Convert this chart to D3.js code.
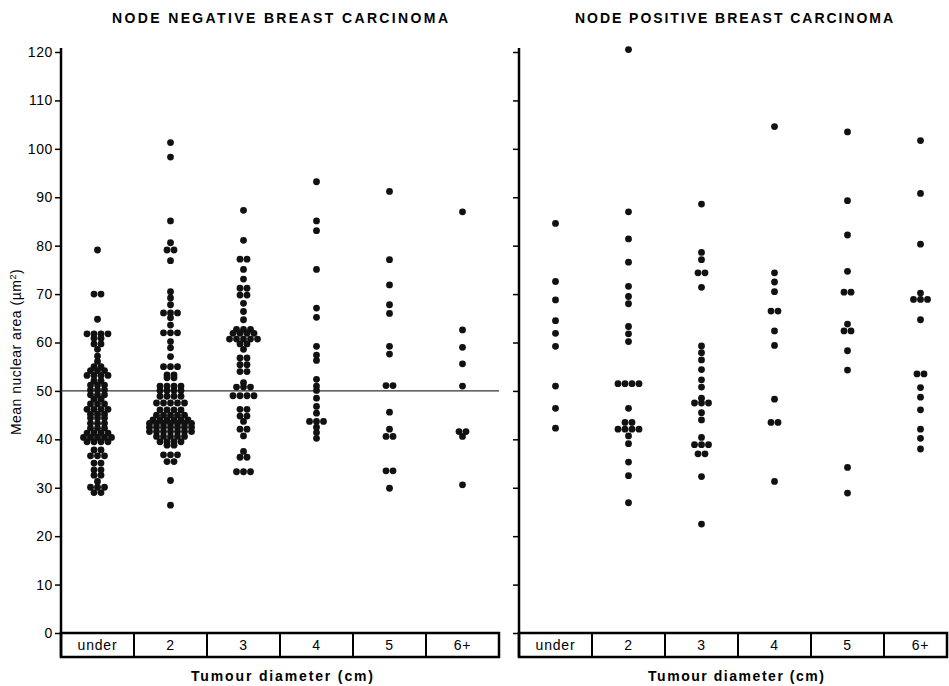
<html>
<head>
<script src="https://cdn.jsdelivr.net/npm/d3@7"></script>
<style>
  body { margin: 0; background: #fff; }
  text { font-family: "Liberation Sans", Arial, sans-serif; fill: #000; }
  .title { font-weight: bold; font-size: 14px; }
  .xlab { font-weight: bold; font-size: 14px; }
  .tick text { font-size: 14px; letter-spacing: 0.6px; }
  .cat { font-size: 14px; letter-spacing: 0.8px; }
</style>
</head>
<body>
<svg width="949" height="686"></svg>
<script>
// tumour diameter categories
var categories = ["under", "2", "3", "4", "5", "6+"];
var yTicks = [0, 10, 20, 30, 40, 50, 60, 70, 80, 90, 100, 110, 120];

// node negative: mean nuclear area per case (µm²)
var negUnder = [79.1, 70, 70, 64.8, 61.8, 61.8, 61.8, 61.8, 60.9, 60.9, 59.7, 59.7, 58.6, 57.2, 56.1,
  55, 55, 54.2, 54.2, 54.2, 53.2, 53.2, 53.2, 53.2, 52.1, 52.1, 51.2, 51.2, 51.2, 50.2, 50.2, 50.2,
  49.2, 49.2, 49.2, 48.3, 48.3, 47.3, 47.3, 47.3, 46.2, 46.2, 46.2, 46.2, 45.2, 45.2, 45.2,
  44.4, 44.4, 44.4, 43.3, 43.3, 43.3, 42.3, 42.3, 42.3, 41.3, 41.3, 41.3, 41.3,
  40.4, 40.4, 40.4, 40.4, 40.4, 39.5, 39.5, 39.5, 39.5, 37.8, 37.8, 36.6, 36.6, 36.6,
  35.1, 35.1, 33.7, 33.7, 32.6, 32.6, 31.3, 30.1, 30.1, 30.1, 29, 29];
var negTwo = [101.3, 98.3, 85.1, 80.6, 79.1, 79.1, 76.9, 70.5, 69.2, 67.8, 66.1, 66.1, 66.1, 65.1, 63.6,
  62, 62, 62, 60.2, 58.9, 57.1, 55, 55, 55, 53.3, 53.3, 52.7, 52.7, 51, 51, 51, 51, 50.1, 50.1, 50.1, 50.1,
  48.9, 48.9, 48.9, 48.9, 47.5, 47.5, 47.5, 47.5, 47.5, 46.1, 46.1, 46.1, 46.1, 45, 45, 45, 45, 45,
  44, 44, 44, 44, 44, 44, 43.3, 43.3, 43.3, 43.3, 43.3, 43.3, 43.3, 42.5, 42.5, 42.5, 42.5, 42.5, 42.5, 42.5,
  41.6, 41.6, 41.6, 41.6, 41.6, 41.6, 41.6, 40.6, 40.6, 40.6, 40.6, 40.6, 39.5, 39.5, 39.5, 39.5,
  38.8, 38.8, 36.8, 36.8, 36.8, 35.4, 35.4, 31.5, 26.4];
var negThree = [87.3, 81.1, 77.2, 77.2, 75.1, 73.1, 71.2, 71.2, 69.8, 69.8, 68.1, 66.4, 64.7,
  62.7, 62.7, 62.7, 61.9, 61.9, 61.9, 61.9, 60.7, 60.7, 60.7, 60.7, 60.7, 59.7, 59.7, 58.6,
  56.8, 56.8, 55.4, 55.4, 54, 54, 51.7, 50.8, 50.8, 50.8, 49, 49, 49, 49, 46.2, 46.2, 44.8, 44.8,
  43.7, 42.1, 42.1, 40.7, 37.5, 36.3, 36.3, 33.3, 33.3, 33.3];
var negFour = [93.2, 85.1, 83.1, 75.1, 67.1, 65.2, 59.2, 57.4, 56.3, 52.4, 51, 50.1, 48.5, 46.8, 45.4,
  43.7, 43.7, 43.7, 42.5, 41.4, 40.2];
var negFive = [91.2, 77.1, 71.9, 67.8, 66, 59.2, 57.6, 51.1, 51.1, 45.6, 42.1, 40.6, 40.6, 33.5, 33.5, 29.9];
var negSix = [87, 62.6, 59, 55.6, 51, 41.6, 41.6, 40.6, 30.6];

// node positive
var posUnder = [84.6, 72.6, 68.8, 64.5, 61.9, 59.2, 51, 46.4, 42.3];
var posTwo = [120.5, 87, 81.4, 76.6, 71.6, 69.5, 68, 63.3, 61.8, 60.2, 51.5, 51.5, 51.5, 51.5, 46.4,
  43.5, 43.5, 42.1, 42.1, 42.1, 42.1, 40.7, 39.1, 35.3, 32.5, 26.9];
var posThree = [88.6, 78.6, 77.1, 74.4, 74.4, 71.4, 59.3, 57.9, 56.4, 54.4, 52.3, 50.8, 48.5,
  47.5, 47.5, 47.5, 45.5, 44, 40.4, 38.9, 38.9, 38.9, 37, 37, 32.3, 22.5];
var posFour = [104.6, 74.4, 72.5, 70.5, 66.5, 66.5, 62.4, 59.4, 48.3, 43.5, 43.5, 31.3];
var posFive = [103.5, 89.3, 82.2, 74.7, 70.4, 70.4, 63.8, 62.4, 62.4, 58.3, 54.3, 34.2, 28.9];
var posSix = [101.7, 90.8, 80.3, 70.2, 68.9, 68.9, 68.9, 64.7, 53.5, 53.5, 50.7, 48.7, 46.1, 42.1, 40.2, 38];

var svg = d3.select("svg"),
    W = +svg.attr("width");

svg.append("rect").attr("width", W).attr("height", 686).attr("fill", "#fff");

var y = d3.scaleLinear().domain([0, 120]).range([633, 52]);
var boxH = 24, dotR = 3.4, dotGap = 7;

var panels = [
  { title: "NODE NEGATIVE BREAST CARCINOMA", titleW: 336, xlabW: 182, range: [61, 499], labels: true, refLine: 50,
    series: [negUnder, negTwo, negThree, negFour, negFive, negSix] },
  { title: "NODE POSITIVE BREAST CARCINOMA", titleW: 318, xlabW: 176, range: [519, 957], labels: false, refLine: null,
    series: [posUnder, posTwo, posThree, posFour, posFive, posSix] }
];

panels.forEach(function(p) {
  var x = d3.scaleBand().domain(categories).range(p.range).padding(0);
  var x0 = p.range[0], x1 = Math.min(p.range[1], W - 2);
  var mid = (x0 + Math.min(p.range[1], W)) / 2;
  var g = svg.append("g");

  g.append("text").attr("class", "title")
    .attr("x", mid).attr("y", 23)
    .attr("text-anchor", "middle")
    .attr("textLength", p.titleW).attr("lengthAdjust", "spacing")
    .text(p.title);

  // y axis ticks
  var ax = d3.axisLeft(y).tickValues(yTicks).tickSize(6).tickPadding(2);
  if (!p.labels) ax.tickFormat("");
  var ag = g.append("g").attr("transform", "translate(" + x0 + ",0)").call(ax);
  ag.select(".domain").remove();
  ag.selectAll(".tick line").attr("stroke", "#000").attr("stroke-width", 1.5);
  ag.selectAll(".tick text").attr("fill", "#000");

  g.append("line")
    .attr("x1", x0).attr("x2", x0)
    .attr("y1", y(120) - 4).attr("y2", y(0) + boxH)
    .attr("stroke", "#000").attr("stroke-width", 2.5);

  if (p.refLine != null) {
    g.append("line")
      .attr("x1", x0).attr("x2", p.range[1])
      .attr("y1", y(p.refLine)).attr("y2", y(p.refLine))
      .attr("stroke", "#333").attr("stroke-width", 1.2);
  }

  // category box under the axis
  g.append("rect")
    .attr("x", x0).attr("y", y(0))
    .attr("width", x1 - x0).attr("height", boxH)
    .attr("fill", "none").attr("stroke", "#000").attr("stroke-width", 2.5);
  g.selectAll(".div").data(categories.slice(1)).enter().append("line")
    .attr("x1", function(d) { return x(d); }).attr("x2", function(d) { return x(d); })
    .attr("y1", y(0)).attr("y2", y(0) + boxH)
    .attr("stroke", "#000").attr("stroke-width", 2);
  g.selectAll(".cat").data(categories).enter().append("text")
    .attr("class", "cat")
    .attr("x", function(d) { return x(d) + x.bandwidth() / 2; })
    .attr("y", y(0) + 17)
    .attr("text-anchor", "middle")
    .text(function(d) { return d; });

  g.append("text").attr("class", "xlab")
    .attr("x", mid + 2).attr("y", 681)
    .attr("text-anchor", "middle")
    .attr("textLength", p.xlabW).attr("lengthAdjust", "spacing")
    .text("Tumour diameter (cm)");

  // dots: equal values sit side by side
  p.series.forEach(function(vals, ci) {
    var cx = x(categories[ci]) + x.bandwidth() / 2;
    var pts = [];
    d3.group(vals, function(v) { return v; }).forEach(function(arr, v) {
      arr.forEach(function(_, i) {
        pts.push({ v: v, dx: (i - (arr.length - 1) / 2) * dotGap });
      });
    });
    g.selectAll(null).data(pts).enter().append("circle")
      .attr("cx", function(d) { return cx + d.dx; })
      .attr("cy", function(d) { return y(d.v); })
      .attr("r", dotR)
      .attr("fill", "#111");
  });
});

svg.append("text")
  .attr("transform", "translate(21,352) rotate(-90)")
  .attr("text-anchor", "middle")
  .attr("font-size", "14px")
  .attr("letter-spacing", "0.5px")
  .html("Mean nuclear area (µm<tspan baseline-shift='super' font-size='9px'>2</tspan>)");
</script>
</body>
</html>
